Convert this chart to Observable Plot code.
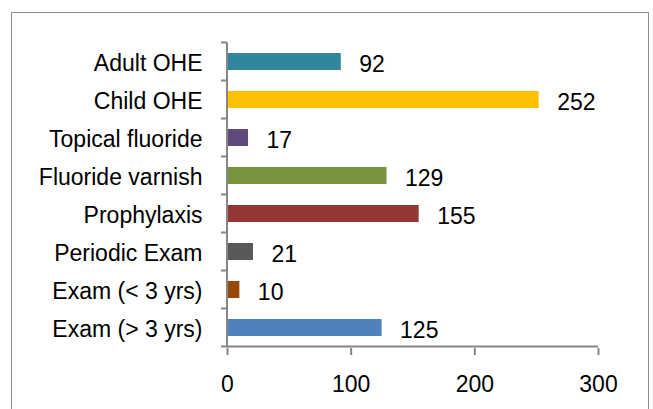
<!DOCTYPE html>
<html>
<head>
<meta charset="utf-8">
<script src="https://cdn.jsdelivr.net/npm/d3@7"></script>
<script src="https://cdn.jsdelivr.net/npm/@observablehq/plot@0.6"></script>
<style>
  html, body { margin: 0; padding: 0; background: #fff; overflow: hidden; width: 653px; height: 409px; }
  #wrap { position: relative; width: 653px; height: 409px; }
  #border { position: absolute; left: 11px; top: 12px; width: 638px; height: 420px; border: 1.5px solid #8e8e8e; box-sizing: border-box; }
  #chart { position: absolute; left: 0; top: 0; }
</style>
</head>
<body>
<div id="wrap"><div id="border"></div><div id="chart"></div></div>
<script>
const categories = ["Adult OHE", "Child OHE", "Topical fluoride", "Fluoride varnish", "Prophylaxis", "Periodic Exam", "Exam (< 3 yrs)", "Exam (> 3 yrs)"];
const values = [92, 252, 17, 129, 155, 21, 10, 125];
const colors = ["#31859C", "#FFC000", "#604A7B", "#77933C", "#953735", "#595959", "#984807", "#4F81BD"];
const xTicks = [0, 100, 200, 300];

const data = categories.map((c, i) => ({category: c, value: values[i], color: colors[i]}));

const axisColor = "#868686";
const yPaddingInner = 0.56;
const yPaddingOuter = 0.28;

function frameMark(index, scales) {
  const x = scales.x;
  const y = scales.y;
  const step = y(categories[1]) - y(categories[0]);
  let bw = y.bandwidth;
  if (typeof bw === "function") bw = bw();
  if (!(bw >= 0) && scales.scales && scales.scales.y) bw = scales.scales.y.bandwidth;
  if (!(bw >= 0)) bw = step * (1 - yPaddingInner);
  const bounds = categories.map(c => y(c) - (step - bw) / 2);
  bounds.push(bounds[bounds.length - 1] + step);
  const x0 = x(xTicks[0]);
  const x1 = x(xTicks[xTicks.length - 1]);
  const g = d3.create("svg:g").attr("stroke", axisColor).attr("stroke-width", 2).attr("fill", "none");
  const yb = bounds[bounds.length - 1];
  g.append("line").attr("x1", x0).attr("x2", x0).attr("y1", bounds[0]).attr("y2", yb);
  g.append("line").attr("x1", x0).attr("x2", x1).attr("y1", yb).attr("y2", yb);
  for (const b of bounds) {
    g.append("line").attr("x1", x0 - 6).attr("x2", x0).attr("y1", b).attr("y2", b);
  }
  return g.node();
}

const chart = Plot.plot({
  width: 653,
  height: 409,
  marginLeft: 227,
  marginRight: 55,
  marginTop: 40,
  marginBottom: 61,
  style: {fontFamily: "'Liberation Sans', sans-serif", fontSize: "23px", background: "transparent", color: "black"},
  x: {domain: [0, 300], ticks: xTicks, label: null},
  y: {domain: categories, paddingInner: yPaddingInner, paddingOuter: yPaddingOuter, label: null},
  color: {type: "identity"},
  marks: [
    Plot.barX(data, {x: "value", y: "category", fill: "color"}),
    Plot.text(data, {x: "value", y: "category", text: d => String(d.value), dx: 18, dy: 3, textAnchor: "start", fill: "black"}),
    Plot.axisX({ticks: xTicks, tickSize: 7, tickPadding: 20, stroke: axisColor, strokeWidth: 2, fill: "black", label: null}),
    Plot.axisY({tickSize: 0, tickPadding: 25, fill: "black", label: null, dy: 2}),
    frameMark
  ]
});
document.getElementById("chart").appendChild(chart);
</script>
</body>
</html>
